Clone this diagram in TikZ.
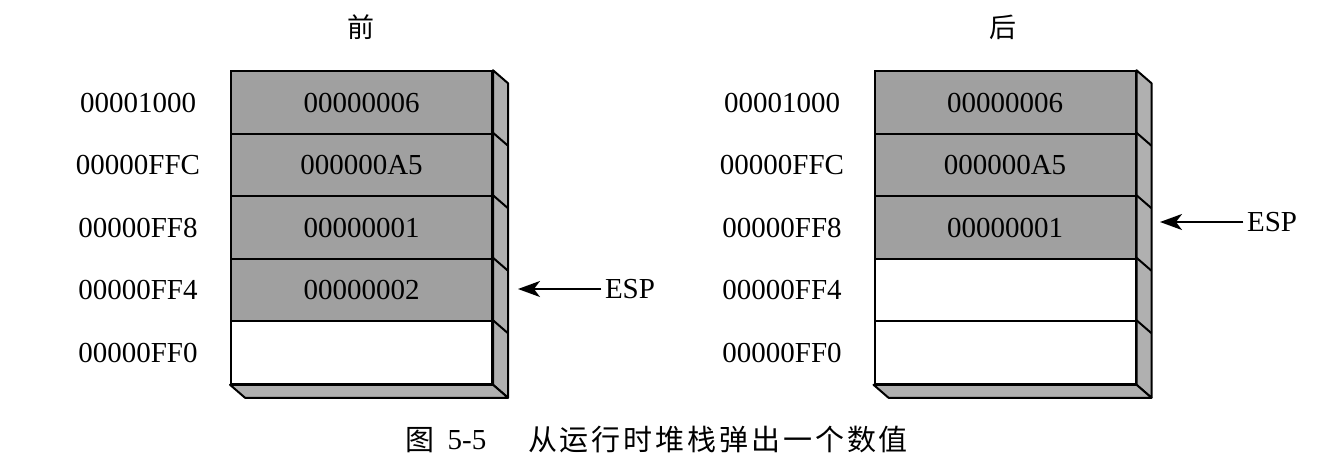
\documentclass[tikz,border=0pt]{standalone}
\usepackage{fontspec}
\setmainfont{Liberation Serif}
\newfontfamily\cjk{Noto Sans CJK SC}
\newfontfamily\cjkwide[LetterSpace=10]{Noto Sans CJK SC}
\usetikzlibrary{arrows.meta}
\definecolor{stackgray}{HTML}{A0A0A0}
\definecolor{sidegray}{HTML}{B0B0B0}
\begin{document}
\begin{tikzpicture}[x=1pt,y=-1pt,
  cell/.style={draw, line width=2pt, minimum width=261pt, minimum height=62.5pt, inner sep=0pt, font=\fontsize{29}{30}\selectfont},
  full/.style={cell, fill=stackgray},
  blank/.style={cell, fill=white},
  addr/.style={font=\fontsize{29}{30}\selectfont},
  face/.style={draw, line width=2pt, fill=sidegray, line join=round},
  divline/.style={line width=2pt},
  ptr/.style={line width=1.8pt, -{Stealth[length=22pt,width=16pt,inset=6pt]}},
  title/.style={font=\cjk\fontsize{27}{27}\selectfont},
  captext/.style={font=\cjk\fontsize{29}{29}\selectfont}]
\useasboundingbox (0,0) rectangle (1322,466);

% ---- left stack (before) ----
\node[title] (tL) at (361,27) {前};
\node[full]  (L1) at (361.5,102.5) {00000006};
\node[full]  (L2) at (361.5,165)   {000000A5};
\node[full]  (L3) at (361.5,227.5) {00000001};
\node[full]  (L4) at (361.5,290)   {00000002};
\node[blank] (L5) at (361.5,352.5) {};
\draw[face] (L1.north east) -- ++(15,13) -- ([shift={(15,13)}]L5.south east) -- (L5.south east) -- cycle;
\draw[face] (L5.south west) -- ++(15,13) -- ([shift={(15,13)}]L5.south east) -- (L5.south east) -- cycle;
\foreach \i in {2,...,5} \draw[divline] (L\i.north east) -- ++(15,13);

\node[addr] (aL1) at (138,102.5) {00001000};
\node[addr] (aL2) at (138,165)   {00000FFC};
\node[addr] (aL3) at (138,227.5) {00000FF8};
\node[addr] (aL4) at (138,290)   {00000FF4};
\node[addr] (aL5) at (138,352.5) {00000FF0};

\node[addr] (espL) at (630,289) {ESP};
\coordinate (tipL) at (518,289);
\draw[ptr] (espL.west) -- (tipL);

% ---- right stack (after) ----
\node[title] (tR) at (1003,27) {后};
\node[full]  (R1) at (1005,102.5) {00000006};
\node[full]  (R2) at (1005,165)   {000000A5};
\node[full]  (R3) at (1005,227.5) {00000001};
\node[blank] (R4) at (1005,290)   {};
\node[blank] (R5) at (1005,352.5) {};
\draw[face] (R1.north east) -- ++(15,13) -- ([shift={(15,13)}]R5.south east) -- (R5.south east) -- cycle;
\draw[face] (R5.south west) -- ++(15,13) -- ([shift={(15,13)}]R5.south east) -- (R5.south east) -- cycle;
\foreach \i in {2,...,5} \draw[divline] (R\i.north east) -- ++(15,13);

\node[addr] (aR1) at (782,102.5) {00001000};
\node[addr] (aR2) at (782,165)   {00000FFC};
\node[addr] (aR3) at (782,227.5) {00000FF8};
\node[addr] (aR4) at (782,290)   {00000FF4};
\node[addr] (aR5) at (782,352.5) {00000FF0};

\node[addr] (espR) at (1272,222) {ESP};
\coordinate (tipR) at (1160,222);
\draw[ptr] (espR.west) -- (tipR);

% ---- caption ----
\node[captext] (c1) at (420,440) {图};
\node[addr] (c2) at (467,440) {5-5};
\node[captext, font=\cjkwide\fontsize{29}{29}\selectfont] (c3) at (718,440) {从运行时堆栈弹出一个数值};
\end{tikzpicture}
\end{document}
